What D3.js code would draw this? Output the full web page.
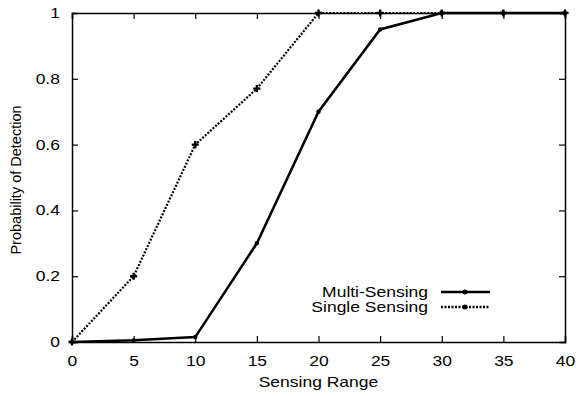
<!DOCTYPE html>
<html>
<head>
<meta charset="utf-8">
<script src="https://cdn.jsdelivr.net/npm/d3@7"></script>
<style>
  body { margin: 0; background: #fff; }
  text { font-family: "Liberation Sans", Arial, sans-serif; font-size: 14px; fill: #000; }
  /* the reference text is stretched sideways */
  .wide { transform-box: fill-box; transform: scaleX(1.25); }
</style>
</head>
<body>
<div id="chart"></div>
<script>
// sensing range values
var ranges = [0, 5, 10, 15, 20, 25, 30, 35, 40];
var multiSensing = [0, 0.005, 0.015, 0.3, 0.7, 0.95, 1, 1, 1];
var singleSensing = [0, 0.2, 0.6, 0.77, 1, 1, 1, 1, 1];
var xTicks = [0, 5, 10, 15, 20, 25, 30, 35, 40];
var yTicks = [0, 0.2, 0.4, 0.6, 0.8, 1];

var width = 576, height = 396;
var margin = { top: 13, right: 11, bottom: 54, left: 72 };

var svg = d3.select("#chart")
	.append("svg")
	.attr("width", width)
	.attr("height", height);

var x = d3.scaleLinear().domain([0, 40]).range([margin.left, width - margin.right]);
var y = d3.scaleLinear().domain([0, 1]).range([height - margin.bottom, margin.top]);

var fmt = function(d) { return d3.format("")(+d.toFixed(1)); };

// axes, ticks pointing inward (gnuplot style)
var gx = svg.append("g")
	.attr("transform", "translate(0," + y(0) + ")")
	.call(d3.axisBottom(x).tickValues(xTicks).tickSize(-6).tickPadding(14).tickFormat(fmt));
var gxTop = svg.append("g")
	.attr("transform", "translate(0," + y(1) + ")")
	.call(d3.axisTop(x).tickValues(xTicks).tickSize(-6).tickFormat(""));
var gy = svg.append("g")
	.attr("transform", "translate(" + x(0) + ",0)")
	.call(d3.axisLeft(y).tickValues(yTicks).tickSize(-6).tickPadding(12).tickFormat(fmt));
var gyRight = svg.append("g")
	.attr("transform", "translate(" + x(40) + ",0)")
	.call(d3.axisRight(y).tickValues(yTicks).tickSize(-6).tickFormat(""));

[gx, gxTop, gy, gyRight].forEach(function(g) {
	g.select(".domain").attr("stroke", "#000").attr("stroke-width", 1.5);
	g.selectAll(".tick line").attr("stroke", "#000").attr("stroke-width", 1.2);
	g.selectAll("text")
		.attr("class", "wide")
		.style("font-family", '"Liberation Sans", Arial, sans-serif')
		.style("font-size", "14px");
});
gx.selectAll("text").style("transform-origin", "center");
gy.selectAll("text").style("transform-origin", "right center");

// axis titles
svg.append("text")
	.attr("class", "wide")
	.style("transform-origin", "center")
	.attr("x", (x(0) + x(40)) / 2)
	.attr("y", 387)
	.attr("text-anchor", "middle")
	.text("Sensing Range");

svg.append("text")
	.attr("transform", "translate(21,180) rotate(-90)")
	.attr("text-anchor", "middle")
	.style("font-size", "14.5px")
	.text("Probability of Detection");

var line = d3.line()
	.x(function(d) { return x(d[0]); })
	.y(function(d) { return y(d[1]); });

var multiData = ranges.map(function(r, i) { return [r, multiSensing[i]]; });
var singleData = ranges.map(function(r, i) { return [r, singleSensing[i]]; });

// single sensing - dotted
svg.append("path")
	.datum(singleData)
	.attr("d", line)
	.attr("fill", "none")
	.attr("stroke", "#000")
	.attr("stroke-width", 2.2)
	.attr("stroke-dasharray", "2,1.5");

// multi sensing - solid
svg.append("path")
	.datum(multiData)
	.attr("d", line)
	.attr("fill", "none")
	.attr("stroke", "#000")
	.attr("stroke-width", 2.5);

// markers
svg.selectAll("path.mk-single")
	.data(singleData)
	.enter().append("path")
	.attr("class", "mk-single")
	.attr("transform", function(d) { return "translate(" + x(d[0]) + "," + y(d[1]) + ")"; })
	.attr("d", d3.symbol().type(d3.symbolCross).size(28))
	.attr("fill", "#000");

svg.selectAll("circle.mk-multi")
	.data(multiData)
	.enter().append("circle")
	.attr("class", "mk-multi")
	.attr("cx", function(d) { return x(d[0]); })
	.attr("cy", function(d) { return y(d[1]); })
	.attr("r", 2.2)
	.attr("fill", "#000");

// legend
var legend = [
	{ label: "Multi-Sensing", dash: null, y: 292 },
	{ label: "Single Sensing", dash: "2,1.5", y: 307 }
];
var lg = svg.selectAll("g.legend")
	.data(legend)
	.enter().append("g")
	.attr("class", "legend");
lg.append("text")
	.attr("class", "wide")
	.style("transform-origin", "right center")
	.attr("x", 428)
	.attr("y", function(d) { return d.y + 5; })
	.attr("text-anchor", "end")
	.text(function(d) { return d.label; });
lg.append("line")
	.attr("x1", 441).attr("x2", 490)
	.attr("y1", function(d) { return d.y; })
	.attr("y2", function(d) { return d.y; })
	.attr("stroke", "#000")
	.attr("stroke-width", 2.5)
	.attr("stroke-dasharray", function(d) { return d.dash; });
lg.append("circle")
	.attr("cx", 465)
	.attr("cy", function(d) { return d.y; })
	.attr("r", 2.5)
	.attr("fill", "#000");
</script>
</body>
</html>
